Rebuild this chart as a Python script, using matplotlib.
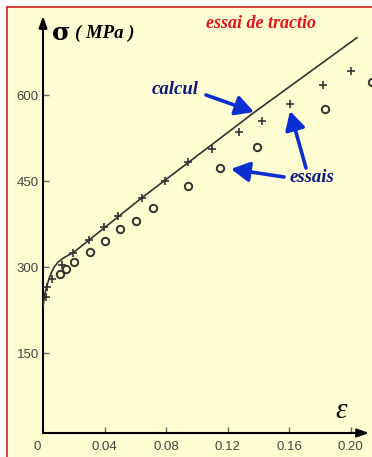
import matplotlib
matplotlib.use("Agg")
import matplotlib.pyplot as plt
from matplotlib.patches import Rectangle, FancyArrowPatch
from matplotlib.lines import Line2D

# ---- data ----
eps_calc = [0.0, 0.001, 0.0024, 0.004, 0.0057, 0.0075, 0.010, 0.014, 0.0197, 0.063, 0.138, 0.2042]
sig_calc = [231, 250, 266, 280, 292, 301, 309, 317, 325, 418, 571, 700]

eps_plus = [0.00195, 0.0028, 0.0057, 0.0122, 0.0197, 0.0301, 0.0399, 0.0486, 0.0642,
            0.0793, 0.0945, 0.1097, 0.1277, 0.1424, 0.1607, 0.1823, 0.2001]
sig_plus = [248, 265, 279, 303, 325, 347, 369, 389, 420,
            450, 483, 505, 535, 554, 585, 617, 642]

eps_circ = [0.0111, 0.0150, 0.0204, 0.0306, 0.0403, 0.0501, 0.0603, 0.0714,
            0.0945, 0.1153, 0.1391, 0.1834, 0.2138]
sig_circ = [288, 296, 309, 326, 346, 366, 381, 403,
            441, 473, 510, 575, 623]

x_ticks = [0.04, 0.08, 0.12, 0.16, 0.20]
x_ticklabels = ["0.04", "0.08", "0.12", "0.16", "0.20"]
y_ticks = [150, 300, 450, 600]
y_ticklabels = ["150", "300", "450", "600"]

W, H = 372, 457
BG = "#fffdd2"
NAVY = "#0b1580"
BLUE = "#0a2ed0"
RED = "#e8101a"
INK = "#333333"

fig = plt.figure(figsize=(W / 100, H / 100), dpi=100)
fig.patch.set_facecolor("white")


def fx(x):
    return x / W


def fy(y):
    return 1 - y / H


# slide panel with red border on the left and top
fig.patches.append(Rectangle((fx(7), 0), 1, fy(7), transform=fig.transFigure,
                             facecolor=BG, edgecolor="none", zorder=-2))
fig.lines.append(Line2D([fx(7), fx(7)], [0, fy(7)], transform=fig.transFigure,
                        color="#d22020", lw=1.2, zorder=-1))
fig.lines.append(Line2D([fx(7), 1], [fy(7), fy(7)], transform=fig.transFigure,
                        color="#d22020", lw=1.2, zorder=-1))

# pixel <-> data scale of the plotting area
PX_PER_EPS = 1537.5
PX_PER_MPA = 0.5733


def sig_at(ypix):
    return (439 - ypix) / PX_PER_MPA


ax = fig.add_axes([fx(43), fy(433), (W - 43) / W, (433 - 7) / H])
ax.set_zorder(2)
ax.set_facecolor("none")
ax.set_xlim(0, (W - 43) / PX_PER_EPS)
ax.set_ylim(sig_at(433), sig_at(7))
for s in ax.spines.values():
    s.set_visible(False)

ax.set_xticks(x_ticks)
ax.set_xticklabels(x_ticklabels)
ax.set_yticks(y_ticks)
ax.set_yticklabels(y_ticklabels)
ax.tick_params(axis="both", direction="in", length=4, width=1.0, color="#666666",
               labelcolor="#444444", labelsize=9.5)
ax.tick_params(axis="x", pad=6)
ax.tick_params(axis="y", pad=3)
for lab in ax.get_xticklabels() + ax.get_yticklabels():
    lab.set_family("Liberation Sans")

# axes drawn as arrows
y0 = sig_at(433)
ax.annotate("", xy=(0, sig_at(16)), xytext=(0, y0), annotation_clip=False,
            arrowprops=dict(arrowstyle="-|>,head_length=0.7,head_width=0.25",
                            color="black", lw=1.5, shrinkA=0, shrinkB=0))
ax.annotate("", xy=((369 - 43) / PX_PER_EPS, y0), xytext=(0, y0), annotation_clip=False,
            arrowprops=dict(arrowstyle="-|>,head_length=0.7,head_width=0.25",
                            color="black", lw=1.5, shrinkA=0, shrinkB=0))

# calculated curve and test points
ax.plot(eps_calc, sig_calc, color=INK, lw=1.2, zorder=3)
ax.plot(eps_plus, sig_plus, linestyle="none", marker="+", markersize=6,
        markeredgewidth=1.2, color=INK, zorder=4)
ax.plot(eps_circ, sig_circ, linestyle="none", marker="o", markersize=5.3,
        markerfacecolor="none", markeredgewidth=1.4, markeredgecolor=INK,
        zorder=4, clip_on=False)

# corner label
fig.text(fx(37), fy(447), "0", ha="center", va="center", fontsize=9.5,
         color="#444444", family="Liberation Sans")

serif = "Liberation Serif"
fig.text(fx(52), fy(33), "σ", ha="left", va="center", fontsize=18,
         family="DejaVu Serif", fontweight="bold", color="black")
fig.text(fx(75), fy(33), "( MPa )", ha="left", va="center", fontsize=13.5,
         family=serif, fontstyle="italic", fontweight="bold", color="black")
fig.text(fx(261), fy(24), "essai de tractio", ha="center", va="center", fontsize=13,
         family=serif, fontstyle="italic", fontweight="bold", color=RED)
fig.text(fx(341), fy(411), "ε", ha="center", va="center", fontsize=21,
         family=serif, fontstyle="italic", color="black")
fig.text(fx(175), fy(90), "calcul", ha="center", va="center", fontsize=13.5,
         family=serif, fontstyle="italic", fontweight="bold", color=NAVY)
fig.text(fx(312), fy(178), "essais", ha="center", va="center", fontsize=13.5,
         family=serif, fontstyle="italic", fontweight="bold", color=NAVY)

# pointer arrows
arrow_kw = dict(arrowstyle="-|>,head_length=1.1,head_width=0.6", color=BLUE, lw=2.6,
                shrinkA=0, shrinkB=0)
for (x1, y1), (x2, y2) in [((206, 95), (254, 112)),
                           ((306, 168), (290, 111)),
                           ((284, 177), (231, 169))]:
    fig.add_artist(FancyArrowPatch(
        (fx(x1), fy(y1)), (fx(x2), fy(y2)), transform=fig.transFigure,
        mutation_scale=10, zorder=5, **arrow_kw))

fig.savefig("out.png", dpi=100, facecolor=fig.get_facecolor())
